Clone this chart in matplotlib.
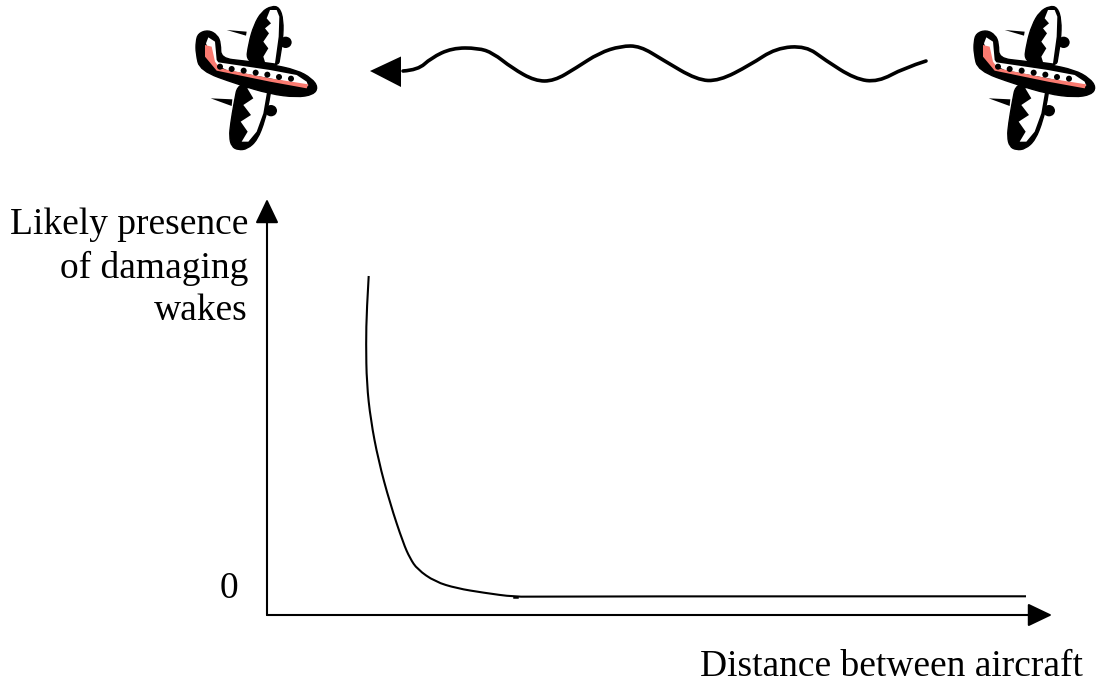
import matplotlib
matplotlib.use("Agg")
import matplotlib.pyplot as plt
from matplotlib.patches import Polygon, Circle, Ellipse, PathPatch
from matplotlib.path import Path

# everything below is in reference pixels
curve_x = [368.7, 366.7, 366, 366.7, 370.7, 378.3, 390, 403.3, 410, 417.3, 435, 456.7, 483.3, 515, 540, 1026]
curve_y = [276, 310, 343.3, 383.3, 420, 460, 503.3, 543.3, 558.3, 569.3, 581.7, 588.3, 592.7, 597, 596.3, 596.3]

wave_x = [403, 418, 431, 452, 478, 493, 512, 535, 554, 576, 599, 621, 640, 663, 697, 719, 750, 776, 806, 825, 855, 878, 904, 926]
wave_y = [71, 70, 58, 48, 48, 53, 68, 81, 81, 68, 53, 46, 46, 60, 80, 81, 65, 48, 46, 60, 79, 82, 68, 61]

axis_origin = (267, 615)
axis_x_end = 1052
axis_y_end = 199

y_labels = ["Likely presence", "of damaging", "wakes"]
y_label_rows = [224, 267, 310]
zero_label = "0"
x_label = "Distance between aircraft"

plane_offsets = [0, 778]
body = [(78,125),(85,100),(115,90),(142,105),(152,130),(152,175),(225,183),(300,193),(380,210),(425,235),(444,262),(430,284),(380,292),(300,282),(200,252),(90,212),(78,160)]
body_white = [(108,130),(115,112),(135,125),(140,180),(145,187),(300,210),(380,225),(410,245),(415,258),(300,235),(170,210),(130,190)]
body_red = [(105,135),(125,140),(135,185),(150,205),(300,235),(415,253),(410,265),(300,245),(140,212),(105,170)]
windows = [(150,200),(185,207),(221,212),(257,218),(292,224),(327,231),(363,236)]
wing_top = [(228,190),(236,130),(252,75),(275,35),(305,18),(328,22),(340,60),(338,120),(330,170),(325,200)]
wing_top_white = [(300,30),(320,30),(328,50),(326,110),(315,190),(285,186),(280,170),(295,145),(280,125),(297,100),(285,85),(303,70),(290,55)]
wing_low = [(205,245),(192,310),(182,370),(178,410),(185,440),(205,450),(232,447),(262,420),(285,360),(298,300),(305,250)]
wing_low_white = [(232,265),(295,253),(280,340),(260,395),(235,425),(215,425),(233,395),(212,365),(243,345),(220,315),(250,295)]
engines = [(347,127,18,17),(303,332,18,17)]
streaks = [[(170,90),(230,95),(228,107)], [(122,295),(187,298),(185,318)]]


def smooth_path(points, closed=False):
    # quadratic spline through the midpoints, keeps the hand drawn look
    if closed:
        start = ((points[-1][0] + points[0][0]) / 2, (points[-1][1] + points[0][1]) / 2)
        verts = [start]
        codes = [Path.MOVETO]
        ring = points + [points[0]]
        for a, b in zip(ring[:-1], ring[1:]):
            verts += [a, ((a[0] + b[0]) / 2, (a[1] + b[1]) / 2)]
            codes += [Path.CURVE3, Path.CURVE3]
        return Path(verts, codes)
    verts = [points[0]]
    codes = [Path.MOVETO]
    for a, b in zip(points[1:-2], points[2:-1]):
        verts += [a, ((a[0] + b[0]) / 2, (a[1] + b[1]) / 2)]
        codes += [Path.CURVE3, Path.CURVE3]
    verts += [points[-2], points[-1]]
    codes += [Path.CURVE3, Path.CURVE3]
    return Path(verts, codes)


def zoomed(points, dx):
    return [(170 + dx + px / 3, py / 3) for px, py in points]


def draw_plane(ax, dx):
    for pts in streaks:
        ax.add_patch(Polygon(zoomed(pts, dx), closed=True, fc="black", ec="none"))
    for pts in [wing_top, wing_low]:
        ax.add_patch(PathPatch(smooth_path(zoomed(pts, dx), closed=True), fc="black", ec="black", lw=1))
    for cx, cy, w, h in engines:
        ax.add_patch(Ellipse((170 + dx + cx / 3, cy / 3), 2 * w / 3, 2 * h / 3, fc="black", ec="none"))
    ax.add_patch(Polygon(zoomed(wing_top_white, dx), closed=True, fc="white", ec="none"))
    ax.add_patch(Polygon(zoomed(wing_low_white, dx), closed=True, fc="white", ec="none"))
    ax.add_patch(PathPatch(smooth_path(zoomed(body, dx), closed=True), fc="black", ec="black", lw=1))
    ax.add_patch(Polygon(zoomed(body_white, dx), closed=True, fc="white", ec="none"))
    ax.add_patch(Polygon(zoomed(body_red, dx), closed=True, fc="#fa7a70", ec="none"))
    for px, py in windows:
        ax.add_patch(Circle((170 + dx + px / 3, py / 3), 3, fc="black", ec="none"))


fig = plt.figure(figsize=(10.99, 6.87), dpi=100)
ax = fig.add_axes([0, 0, 1, 1])
ax.set_xlim(0, 1099)
ax.set_ylim(687, 0)
ax.axis("off")

for dx in plane_offsets:
    draw_plane(ax, dx)

# wake
ax.add_patch(PathPatch(smooth_path(list(zip(wave_x, wave_y))), fc="none", ec="black", lw=2.6, capstyle="round"))
ax.add_patch(Polygon([(370, 71), (401, 56.5), (401, 87)], closed=True, fc="black", ec="none"))

# axes
arrow = dict(arrowstyle="-|>,head_length=1.15,head_width=0.55", color="black", lw=1.5, shrinkA=0, shrinkB=0, mutation_scale=13)
ax.annotate("", xy=(axis_x_end, axis_origin[1]), xytext=axis_origin, arrowprops=arrow)
ax.annotate("", xy=(axis_origin[0], axis_y_end), xytext=axis_origin, arrowprops=arrow)

ax.add_patch(PathPatch(smooth_path(list(zip(curve_x, curve_y))), fc="none", ec="black", lw=1.5))
ax.plot([curve_x[13] - 1.5, curve_x[13] + 2], [curve_y[13], curve_y[13]], color="black", lw=1.8)

serif = "Liberation Serif"
for row, label in zip(y_label_rows, y_labels):
    ax.text(248, row + 1, label, ha="right", va="center", family=serif, fontsize=27)
ax.text(238, 589, zero_label, ha="right", va="center", family=serif, fontsize=27)
ax.text(1083, 667, x_label, ha="right", va="center", family=serif, fontsize=27)

fig.savefig("out.png", dpi=100)
